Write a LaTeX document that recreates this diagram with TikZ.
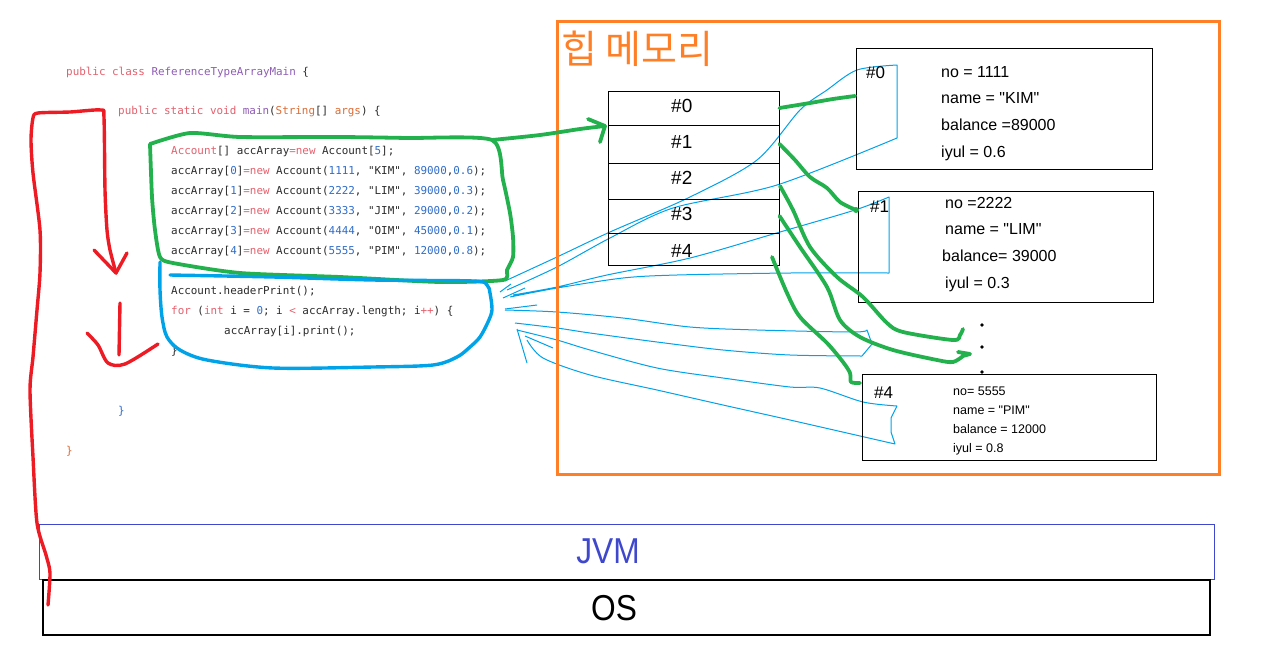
\documentclass[tikz,border=0pt]{standalone}
\usepackage{fontspec}
\usepackage{graphicx}
\setmainfont{Liberation Sans}[Ligatures=TeXOff]
\setmonofont{DejaVu Sans Mono}
\newfontfamily\krfont{Noto Sans CJK KR}

\definecolor{heaporange}{HTML}{FF7F27}
\definecolor{pengreen}{HTML}{22B14C}
\definecolor{penred}{HTML}{ED1C24}
\definecolor{penblue}{HTML}{00A2E8}
\definecolor{jvmblue}{HTML}{3F48CC}
\definecolor{codetext}{HTML}{2B2B2B}
\definecolor{codekw}{HTML}{E3606C}
\definecolor{codecls}{HTML}{8E5BB5}
\definecolor{codenum}{HTML}{2F6CC8}
\definecolor{codetyp}{HTML}{DA6B35}

\newcommand\ckw[1]{\textcolor{codekw}{#1}}
\newcommand\ccls[1]{\textcolor{codecls}{#1}}
\newcommand\cnum[1]{\textcolor{codenum}{#1}}
\newcommand\ctyp[1]{\textcolor{codetyp}{#1}}

\begin{document}
\begin{tikzpicture}
[x=1pt,y=-1pt,
 code line/.style={anchor=base west,inner sep=0pt,text=codetext,
   font=\ttfamily\fontsize{10.9}{13}\selectfont},
 cell/.style={draw,line width=1pt,minimum width=171pt,inner sep=0pt},
 cell label/.style={anchor=base west,inner sep=0pt,font=\fontsize{19}{21}\selectfont},
 acct box/.style={draw,line width=1pt,inner sep=0pt},
 acct label/.style={anchor=base west,inner sep=0pt,font=\fontsize{17}{19}\selectfont},
 field text/.style={anchor=base west,inner sep=0pt,font=\fontsize{16}{18}\selectfont},
 small field/.style={anchor=base west,inner sep=0pt,font=\fontsize{12.5}{14}\selectfont},
 layer box/.style={draw,inner sep=0pt,minimum height=55pt},
 layer label/.style={inner sep=0pt,font=\fontsize{36}{38}\selectfont},
 green pen/.style={draw=pengreen,line width=3.8pt,line cap=round,line join=round},
 red pen/.style={draw=penred,line width=3.4pt,line cap=round,line join=round},
 blue pen/.style={draw=penblue,line width=3.4pt,line cap=round,line join=round},
 blue trace/.style={draw=penblue,line width=1pt,line join=round}]
\useasboundingbox (0,0) rectangle (1285,662);

% source code
\node[code line] (class line) at (66,75) {\ckw{public class} \ccls{ReferenceTypeArrayMain} \{};
\node[code line] (main line) at (118,114) {\ckw{public static void} \ccls{main}(\ctyp{String}[] \ctyp{args}) \{};
\node[code line] (new line) at (171,154) {\ckw{Account}[] accArray\ckw{=new} Account[\cnum{5}];};
\foreach \i/\no/\nm/\bal/\rate in {0/1111/KIM/89000/0.6,1/2222/LIM/39000/0.3,2/3333/JIM/29000/0.2,3/4444/OIM/45000/0.1,4/5555/PIM/12000/0.8}
  \node[code line] (set line\i) at (171,174+20*\i) {accArray[\cnum{\i}]\ckw{=new} Account(\cnum{\no}, "\nm", \cnum{\bal},\cnum{\rate});};
\node[code line] (header line) at (171,294) {Account.headerPrint();};
\node[code line] (for line) at (171,314) {\ckw{for} (\ckw{int} i = \cnum{0}; i \ckw{<} accArray.length; i\ckw{++}) \{};
\node[code line] (print line) at (224,334) {accArray[i].print();};
\node[code line] (for end) at (171,354) {\}};
\node[code line,text=codenum] (main end) at (118,414) {\}};
\node[code line,text=codetyp] (class end) at (66,454) {\}};

% what print() reads
\draw[blue trace] plot[smooth] coordinates {(505,281) (557,257) (610,232) (690,197) (757,160) (800,110) (827,90) (857,70) (897,65)}
  -- (897,138) -- plot[smooth] coordinates {(897,138) (777,185) (673,208) (610,238) (557,267) (507,290)};
\draw[blue trace] plot[smooth] coordinates {(513,295) (557,287) (607,275) (690,258) (780,232) (855,210) (889,197)}
  -- (889,273) -- plot[smooth] coordinates {(889,273) (790,273) (677,275) (623,278) (557,288) (510,297)};
\draw[blue trace] plot[smooth] coordinates {(505,310) (557,312) (623,318) (690,327) (757,330) (853,332) (867,330)}
  -- (872,344) -- (862,356) -- plot[smooth] coordinates {(862,356) (790,355) (723,350) (657,342) (590,333) (557,328) (515,323)};
\draw[blue trace] plot[smooth] coordinates {(517,330) (557,340) (590,350) (657,368) (723,378) (790,387) (820,388) (863,402) (897,406)}
  -- (891,418) -- (891,432) -- (895,444) -- plot[smooth] coordinates {(895,444) (790,420) (723,405) (657,390) (590,375) (543,358) (527,340)};
\draw[blue trace] (500,292) -- (511,284) (503,298) -- (525,288) (505,309) -- (537,305) (517,329) -- (527,363) (525,336) -- (553,348);

% heap memory
\node[draw=heaporange,line width=3pt,minimum width=662pt,minimum height=453pt,inner sep=0pt] (heap) at (888,247.5) {};
\node[anchor=base west,inner sep=0pt,text=heaporange,font=\krfont\fontsize{39}{43}\selectfont] (heap title) at (561,63) {힙 메모리};
\foreach \i/\cy/\h/\by in {0/108/34/112,1/144/38/148,2/181/36/184,3/216/34/220,4/249/32/257}{
  \node[cell,minimum height=\h pt] (cell\i) at (693.5,\cy) {};
  \node[cell label] (cell label\i) at (671,\by) {\#\i};
}
\node[acct box,minimum width=296pt,minimum height=121pt] (acc0) at (1004,108.5) {};
\node[acct box,minimum width=295pt,minimum height=111pt] (acc1) at (1005.5,246.5) {};
\node[acct box,minimum width=294pt,minimum height=86pt] (acc4) at (1009,417) {};
\node[acct label] (acc0 id) at (866,78) {\#0};
\node[acct label] (acc1 id) at (870,212) {\#1};
\node[acct label] (acc4 id) at (874,398) {\#4};
\foreach \txt [count=\k] in {no = 1111,name = "KIM",balance =89000,iyul = 0.6}
  \node[field text] (acc0 field\k) at (941,77+26.7*\k-26.7) {\txt};
\foreach \fx/\txt [count=\k] in {945/no =2222,945/name = "LIM",942/balance= 39000,945/iyul = 0.3}
  \node[field text] (acc1 field\k) at (\fx,208+26.7*\k-26.7) {\txt};
\foreach \txt [count=\k] in {no= 5555,name = "PIM",balance = 12000,iyul = 0.8}
  \node[small field] (acc4 field\k) at (953,395+19*\k-19) {\txt};
\foreach \dy [count=\k] in {325,347,372}
  \fill (982,\dy) circle[radius=1.8pt];

% JVM and OS
\node[layer box,draw=jvmblue,line width=1pt,minimum width=1175pt] (jvm) at (626.5,551.5) {};
\node[layer label,text=jvmblue] (jvm label) at (608,551) {\scalebox{0.88}[1]{JVM}};
\node[layer box,line width=1.2pt,minimum width=1167pt] (os) at (626.5,607.5) {};
\node[layer label] (os label) at (614,608) {\scalebox{0.88}[1]{OS}};

% code blocks
\draw[green pen] plot[smooth,tension=0.4] coordinates {(150,144) (190,133) (240,137) (340,137) (407,138) (492,140) (503,180) (510,213) (513,237) (513,257) (507,270) (503,280) (440,282) (340,277) (240,273) (173,263) (160,257) (155,230) (152,197) (150,144)};
\draw[blue pen] plot[smooth,tension=0.5] coordinates {(170,275) (273,277) (373,280) (473,281) (487,285) (490,293) (492,310) (488,322) (480,337) (470,347) (457,357) (433,365) (373,367) (273,368) (207,360) (180,350) (167,337) (162,317) (160,290) (160,262)};

% references
\coordinate (array tip) at (605,126);
\draw[green pen] plot[smooth] coordinates {(492,140) (540,135) (580,129) (array tip)};
\draw[green pen] (588,119) -- (array tip) -- (600,142);
\draw[green pen] plot[smooth] coordinates {(cell0.east) (810,103) (833,99) (855,96)};
\draw[green pen] plot[smooth] coordinates {(cell1.east) (795,160) (810,177) (827,188) (840,202) (856,210)};
\fill[pengreen] (856,210) circle[radius=3pt];
\draw[green pen] plot[smooth] coordinates {(780,186) (793,210) (810,247) (837,277) (863,297) (887,323) (903,332) (953,340) (960,335) (963,329)};
\draw[green pen] plot[smooth] coordinates {(cell3.east) (800,247) (827,287) (840,320) (860,337) (893,350) (937,360) (953,362) (963,356)} -- (970,354) -- (958,352);
\draw[green pen] plot[smooth] coordinates {(772,257) (787,293) (800,317) (827,343) (843,362) (850,373) (851,382) (860,383)};

% program flow
\coordinate (flow tip) at (116,273);
\draw[red pen] plot[smooth,tension=0.45] coordinates {(48,605) (50,573) (46,555) (37,523) (33,457) (30,390) (33,357) (37,310) (40,273) (40,230) (33,173) (31,140) (33,118) (38,113) (70,112) (101,110) (104,118) (105,190) (107,230) (110,250) (flow tip)};
\draw[red pen] (94,250) -- (flow tip) -- (127,253);
\coordinate (loop tip) at (119,355);
\draw[red pen] (120,303) -- (loop tip);
\draw[red pen] plot[smooth,tension=0.5] coordinates {(87,333) (98,345) (108,363) (125,364) (158,344)};
\end{tikzpicture}
\end{document}
